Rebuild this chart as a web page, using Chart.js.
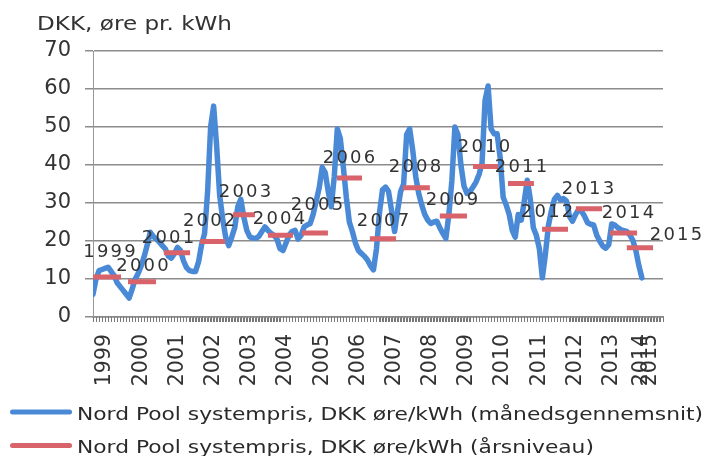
<!DOCTYPE html>
<html><head><meta charset="utf-8">
<script src="https://cdn.jsdelivr.net/npm/chart.js@4"></script>
<style>html,body{margin:0;padding:0;background:#fff;}#wrap{width:707px;height:456px;}</style>
</head><body><div id="wrap"><canvas id="c" width="707" height="456"></canvas></div>
<script>
// Monthly system price (øre/kWh), Jan 1999 onwards
const monthlyPrice = [
 6,10,12.2,12.5,12.8,13.1,12,10.9,9,8,7,6,
 5,7.4,10,11.5,13.5,16,19,22.3,21.2,20.5,19.7,18.8,
 17.9,16,15.5,16.7,18.3,17.5,14.8,13,12.2,12,12,14.5,
 19,22,33,50,55.5,45,32,25.8,21,18.8,21,23.5,
 29,31,26.3,22.8,21.1,20.8,20.7,21.2,22.5,23.7,22.8,22,
 21.5,20.5,18,17.5,19.5,21.5,22.5,22.8,20.5,21.5,23.7,24.2,
 24.6,27,30.5,34,39.4,38,33,29,37,49.5,47,39.5,
 31.5,25,22.5,19.5,17.5,16.7,16,15,13.5,12.4,18,27.5,
 33.5,34.2,33,28,22.5,28,33,35,48,49.5,44,37,
 32.5,29.5,27,25.5,24.6,25,25.2,23.5,22,20.7,27,36,
 50,48,40,34.5,32.5,33,34.2,35.5,37.5,40.5,57,60.8,
 49.5,48.2,48.2,42,31.5,29.5,27,22.8,21,27,25.5,30.5,
 36,31,23.5,21.5,18,10.3,16.5,24,28,31,32,30.8,
 31.2,30.5,26.5,25.2,27,28.2,27.8,26.5,24.8,24.4,24.2,21.6,
 20,18.7,18.1,19,24.5,24.2,23.5,23,22.7,22.5,21.6,20.2,
 17.5,13.5,10.3
];
// Category (tick) labels and the month index they sit on
const tickYears = ['1999','2000','2001','2002','2003','2004','2005','2006','2007','2008','2009','2010','2011','2012','2013','2014','2015'];
const tickAt = [4,16,28,40,52,64,76,88,100,112,124,136,148,160,172,182,185];
// Annual level series
const annualYears = ['1999','2000','2001','2002','2003','2004','2005','2006','2007','2008','2009','2010','2011','2012','2013','2014','2015'];
const annualLevel = [10.5,9.3,16.9,19.9,26.9,21.5,22.1,36.6,20.6,34.0,26.6,39.6,35.1,23.1,28.5,22.1,18.2];
const annualFrom = [0,11.6,23.5,35.5,46.4,58,69.3,80.9,91.8,102.8,115,126,137.6,148.9,160.1,171.4,177];
const annualTo = [9.3,20.9,32.2,43.8,53.7,66.3,77.9,89.2,100.5,111.7,124,134.3,146.2,157.5,168.8,180.4,185.7];
const axisMax = 189;

const BLUE = '#4a89d6', RED = '#d9636b';

const bluePts = monthlyPrice.map((v, i) => ({x: i, y: v}));
const redPts = [];
annualLevel.forEach((v, i) => {
  redPts.push({x: annualFrom[i], y: v}, {x: annualTo[i], y: v}, {x: annualTo[i], y: null});
});

// label nudges relative to the bar's middle (style only)
const labelDx = [2.5,0.5,-9,-3.5,1,-1.5,2,-0.5,0,-1.5,-1.5,-1.5,0,-8,-1,4.5,36];
const labelDy = [-25,-15,-14,-20,-22,-16,-28,-20,-17,-20,-16,-19,-16,-17,-19,-20,-13];

function stretchedText(ctx, text, x, y, targetWidth) {
  const w = ctx.measureText(text).width;
  const k = targetWidth / w;
  ctx.save();
  ctx.translate(x, y);
  ctx.scale(k, 1);
  ctx.fillText(text, 0, 0);
  ctx.restore();
}

const decor = {
  id: 'decor',
  afterDatasetsDraw(chart) {
    const ctx = chart.ctx, xs = chart.scales.x, ys = chart.scales.y;
    ctx.save();
    ctx.font = '18px "DejaVu Sans"';
    ctx.fillStyle = '#333';
    ctx.textAlign = 'left';
    ctx.textBaseline = 'middle';
    annualYears.forEach((t, i) => {
      const xm = (xs.getPixelForValue(annualFrom[i]) + xs.getPixelForValue(annualTo[i])) / 2;
      const y = ys.getPixelForValue(annualLevel[i]);
      const gap = 2.2;
      let total = 0;
      for (const ch of t) total += ctx.measureText(ch).width + gap;
      total -= gap;
      let cx = xm + labelDx[i] - total / 2;
      for (const ch of t) { ctx.fillText(ch, cx, y + labelDy[i]); cx += ctx.measureText(ch).width + gap; }
    });
    ctx.restore();
  },
  afterDraw(chart) {
    const ctx = chart.ctx, xs = chart.scales.x;
    ctx.save();
    // minor tick marks under the category axis, one per month
    ctx.strokeStyle = '#7a7a7a';
    ctx.lineWidth = 1;
    ctx.beginPath();
    for (let i = 0; i <= axisMax; i++) {
      const px = Math.round(xs.getPixelForValue(i)) + 0.5;
      ctx.moveTo(px, xs.top);
      ctx.lineTo(px, xs.top + 5);
    }
    ctx.stroke();

    ctx.fillStyle = '#333';
    ctx.font = '19.5px "DejaVu Sans"';
    ctx.textAlign = 'left';
    ctx.textBaseline = 'alphabetic';
    stretchedText(ctx, 'DKK, øre pr. kWh', 37, 29.5, 195);
    // legend
    const items = [
      {c: BLUE, t: 'Nord Pool systempris, DKK øre/kWh (månedsgennemsnit)', y: 412},
      {c: RED, t: 'Nord Pool systempris, DKK øre/kWh (årsniveau)', y: 445.5}
    ];
    ctx.font = '18.5px "DejaVu Sans"';
    ctx.fillStyle = '#2a2a2a';
    const k = 626 / ctx.measureText(items[0].t).width;
    items.forEach(it => {
      ctx.strokeStyle = it.c;
      ctx.lineWidth = 5;
      ctx.lineCap = 'round';
      ctx.beginPath();
      ctx.moveTo(12.5, it.y);
      ctx.lineTo(69.5, it.y);
      ctx.stroke();
      stretchedText(ctx, it.t, 77, it.y + 7.5, ctx.measureText(it.t).width * k);
    });
    ctx.restore();
  }
};

new Chart(document.getElementById('c'), {
  type: 'line',
  data: {
    datasets: [
      {label: 'Nord Pool systempris, DKK øre/kWh (månedsgennemsnit)', data: bluePts, borderColor: BLUE, borderWidth: 5.5,
       pointRadius: 0, tension: 0, borderJoinStyle: 'round', borderCapStyle: 'round', order: 2},
      {label: 'Nord Pool systempris, DKK øre/kWh (årsniveau)', data: redPts, borderColor: RED, borderWidth: 5,
       pointRadius: 0, spanGaps: false, borderCapStyle: 'butt', order: 1}
    ]
  },
  options: {
    responsive: false,
    devicePixelRatio: 1,
    animation: false,
    events: [],
    layout: {padding: {top: 51, right: 44, bottom: 69, left: 0}},
    plugins: {legend: {display: false}, title: {display: false}, tooltip: {enabled: false}},
    scales: {
      x: {
        type: 'linear', min: 0, max: axisMax,
        afterBuildTicks: s => { const t = []; for (let i = 0; i <= axisMax; i++) t.push({value: i}); s.ticks = t; },
        afterFit: s => { s.height = 70; },
        ticks: {
          autoSkip: false, maxRotation: 90, minRotation: 90, padding: 12,
          font: {family: 'DejaVu Sans', size: 20.5}, color: '#333',
          callback: v => { const k = tickAt.indexOf(v); return k >= 0 ? tickYears[k] : ''; }
        },
        grid: {drawOnChartArea: false, drawTicks: true, tickLength: 5, color: '#777', lineWidth: 1},
        border: {display: true, color: '#888', width: 1.5}
      },
      y: {
        min: 0, max: 70,
        afterFit: s => { s.width = 93; },
        ticks: {stepSize: 10, padding: 14, font: {family: 'DejaVu Sans', size: 21}, color: '#333'},
        grid: {color: '#8c8c8c', lineWidth: 1.5, tickLength: 8},
        border: {display: true, color: '#999', width: 1}
      }
    }
  },
  plugins: [decor]
});
</script>
</body></html>
